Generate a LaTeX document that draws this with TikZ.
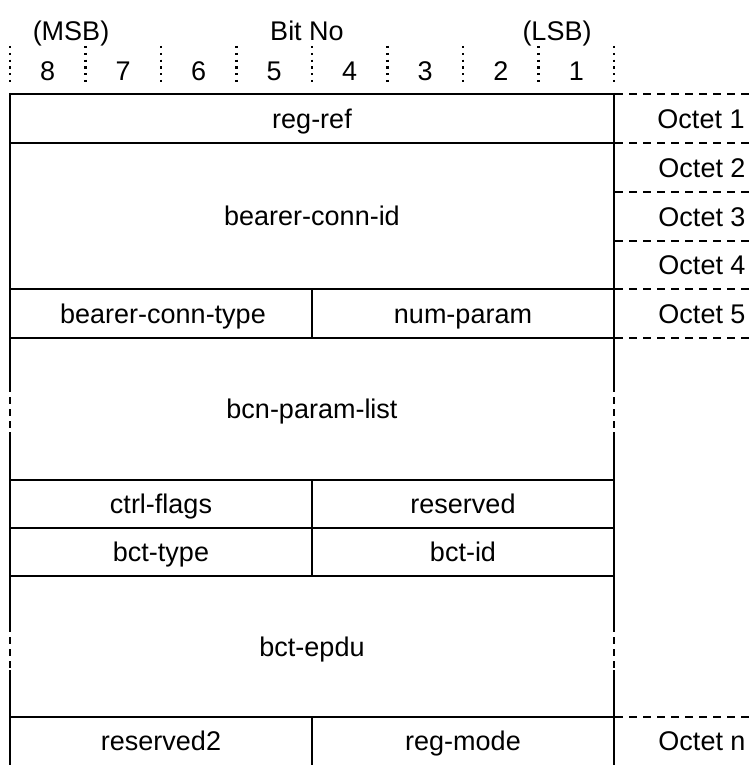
\documentclass[tikz,border=0pt]{standalone}
\usepackage{fontspec}
\setmainfont{Liberation Sans}
\begin{document}
\begin{tikzpicture}[x=1pt,y=-1pt,
  frame/.style={line width=2pt},
  sep/.style={line width=2pt, dash pattern=on 8pt off 6pt},
  gapline/.style={line width=2.2pt, dash pattern=on 7pt off 5pt},
  bitline/.style={line width=2.3pt, dash pattern=on 2.2pt off 4.6pt},
  lbl/.style={font=\fontsize{27}{31}\selectfont, text height=19.2pt, text depth=0pt, inner sep=0pt, anchor=center}]
\useasboundingbox (0,0) rectangle (754,765);
% header
\node[lbl] (msb) at (71,31) {(MSB)};
\node[lbl] (bitno) at (307,31) {Bit No};
\node[lbl] (lsb) at (557,31) {(LSB)};
\foreach \k in {0,...,8} {
  \draw[bitline] ({10+75.5*\k},46) -- ({10+75.5*\k},86);
}
\foreach \k/\d in {0/8,1/7,2/6,3/5,4/4,5/3,6/2,7/1} {
  \node[lbl] (bit\d) at ({10+75.5*(\k+0.5)},70.5) {\d};
}
% horizontal solid lines
\foreach \y in {94,143,289,338,480,528,576,717} {
  \draw[frame] (9,\y) -- (615,\y);
}
% outer verticals with dashed gaps
\foreach \x in {10,614} {
  \draw[frame] (\x,93) -- (\x,385);
  \draw[gapline] (\x,385) -- (\x,432);
  \draw[frame] (\x,432) -- (\x,625);
  \draw[gapline] (\x,625) -- (\x,670);
  \draw[frame] (\x,670) -- (\x,765);
}
% middle dividers
\draw[frame] (312,289) -- (312,338);
\draw[frame] (312,480) -- (312,576);
\draw[frame] (312,717) -- (312,765);
% octet separators
\foreach \y in {94,143,192,241,289,338,717} {
  \draw[sep] (615,\y) -- (754,\y);
}
% fields
\node[lbl] (regref) at (312,118.5) {reg-ref};
\node[lbl] (bcid) at (312,216) {bearer-conn-id};
\node[lbl] (bctypeconn) at (163,313.5) {bearer-conn-type};
\node[lbl] (numparam) at (463,313.5) {num-param};
\node[lbl] (bcnlist) at (312,409) {bcn-param-list};
\node[lbl] (ctrlflags) at (161,504) {ctrl-flags};
\node[lbl] (reserved) at (463,504) {reserved};
\node[lbl] (bcttype) at (161,552) {bct-type};
\node[lbl] (bctid) at (463,552) {bct-id};
\node[lbl] (bctepdu) at (312,646.5) {bct-epdu};
\node[lbl] (reserved2) at (161,741) {reserved2};
\node[lbl] (regmode) at (463,741) {reg-mode};
% octet labels
\node[lbl] (o1) at (701,118.5) {Octet 1};
\node[lbl] (o2) at (702,167.5) {Octet 2};
\node[lbl] (o3) at (702,216.5) {Octet 3};
\node[lbl] (o4) at (702,265) {Octet 4};
\node[lbl] (o5) at (702,313.5) {Octet 5};
\node[lbl] (on) at (702,741) {Octet n};
\end{tikzpicture}
\end{document}
